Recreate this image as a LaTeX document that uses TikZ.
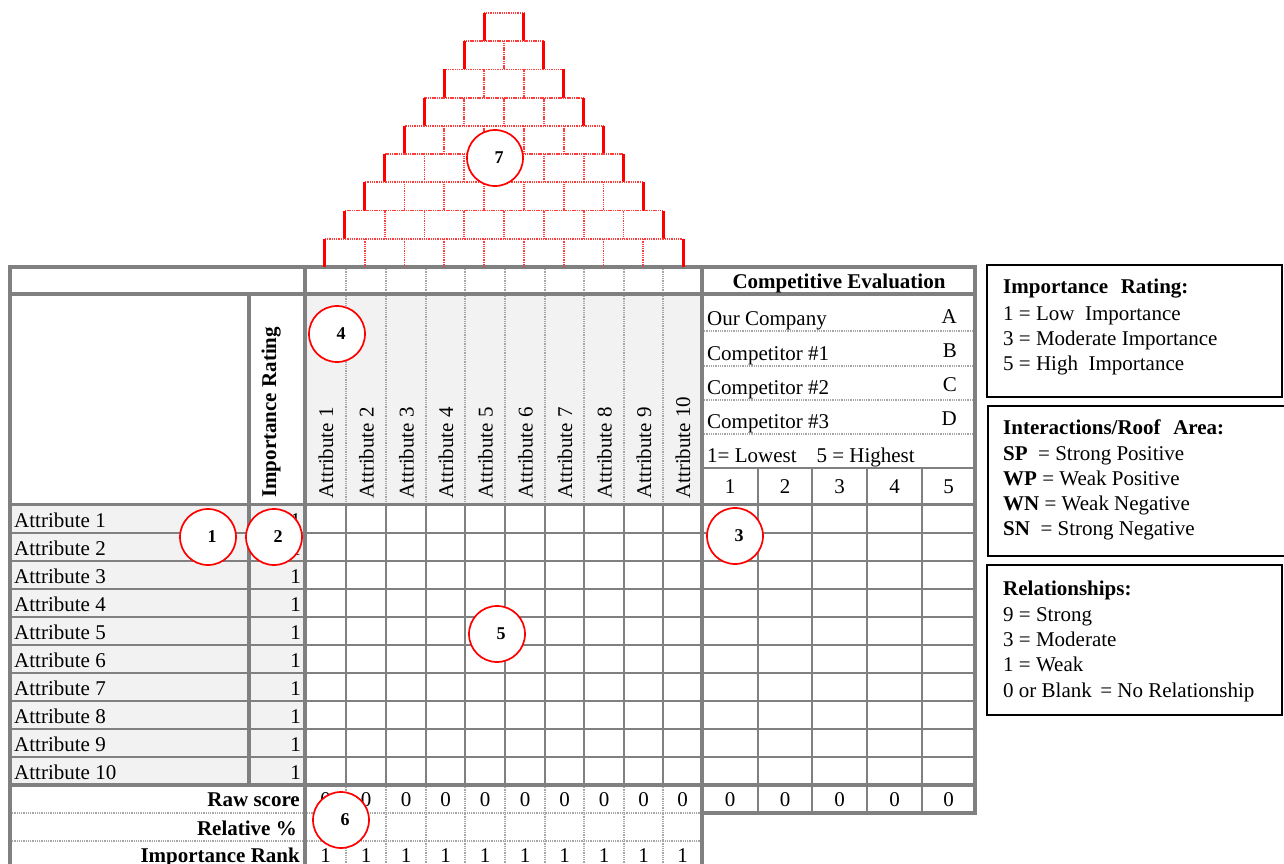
\documentclass[tikz,border=0pt]{standalone}
\usepackage{fontspec}
\setmainfont{Liberation Serif}
\definecolor{gridgray}{HTML}{808080}
\definecolor{dotgray}{HTML}{A6A6A6}
\definecolor{headgray}{HTML}{F2F2F2}
\definecolor{roofred}{HTML}{FF3C3C}
\begin{document}
\begin{tikzpicture}[x=1pt,y=-1pt,
  thick rule/.style={draw=gridgray,line width=3.4pt},
  thin rule/.style={draw=gridgray,line width=1.8pt},
  dot rule/.style={draw=dotgray,line width=1.3pt,dash pattern=on 0.9pt off 0.9pt},
  roof dot/.style={draw=roofred,line width=1.8pt,dash pattern=on 1.1pt off 0.7pt},
  roof side/.style={draw=red,line width=3pt},
  marker/.style={circle,draw=red,line width=1.7pt,fill=white,minimum size=56pt,inner sep=0pt,
                 font=\fontsize{18}{18}\selectfont\bfseries},
  txt/.style={font=\fontsize{21}{24}\selectfont,inner sep=0pt},
  btxt/.style={font=\fontsize{21}{24}\selectfont\bfseries,inner sep=0pt},
  legend/.style={draw=black,line width=1.3pt}
]
\useasboundingbox (0,0) rectangle (1284,864);

% ---------- shaded areas ----------
\fill[headgray] (305,294) rectangle (702,504);
\fill[headgray] (10,505) rectangle (305,785);

% ---------- thin grid lines ----------
\foreach \y in {533,561,589,617,645,673,701,729,757}
  \draw[thin rule] (10,\y) -- (975,\y);
\foreach \x in {346,386,426,465,505,545,584,624,663}
  \draw[thin rule] (\x,505) -- (\x,785);
\foreach \x in {758,812,867,922}
  \draw[thin rule] (\x,468) -- (\x,813);

% ---------- dotted separators ----------
\foreach \x in {346,386,426,465,505,545,584,624,663}{
  \draw[dot rule] (\x,267) -- (\x,504);
  \draw[dot rule] (\x,785) -- (\x,870);
}
\foreach \y in {331,366,400,434}
  \draw[dot rule] (702,\y) -- (975,\y);
\foreach \y in {813,841}
  \draw[dot rule] (10,\y) -- (702,\y);

% ---------- heavy borders ----------
\draw[thick rule] (10,870) -- (10,267) -- (975,267) -- (975,813) -- (702,813);
\draw[thick rule] (10,294) -- (975,294);
\draw[thick rule] (10,504.5) -- (975,504.5);
\draw[thick rule] (10,785) -- (975,785);
\draw[thick rule] (249,294) -- (249,785);
\draw[thick rule] (305,267) -- (305,870);
\draw[thick rule] (702,267) -- (702,870);
\draw[thick rule,line width=2.8pt] (702,468) -- (975,468);

% ---------- roof of bricks ----------
\foreach \i in {1,...,9}{
  \pgfmathsetmacro\yt{13+28.222*(\i-1)}
  \pgfmathsetmacro\yb{\yt+28.222}
  \pgfmathsetmacro\xl{504-19.9*\i}
  \pgfmathsetmacro\xr{504+19.9*\i}
  \draw[roof dot] (\xl,\yt) -- (\xr,\yt);
  \ifnum\i>1
    \foreach \k in {2,...,\i}{
      \pgfmathsetmacro\xk{\xl+39.8*(\k-1)}
      \draw[roof dot] (\xk,\yt) -- (\xk,\yb);
    }
  \fi
  \draw[roof side] (\xl,\yt) -- (\xl,\yb);
  \draw[roof side] (\xr,\yt) -- (\xr,\yb);
}

% ---------- column headings ----------
\node[btxt,rotate=90,anchor=base west] (imprate) at (276,498) {Importance Rating};
\foreach \c [count=\n] in {325.5,366,406,445.5,485,525,564.5,604,643.5,682.5}
  \node[txt,rotate=90,anchor=base west] (head\n) at (\c+7.5,499) {Attribute \n};

% ---------- competitive evaluation ----------
\node[btxt,anchor=base] (compeval) at (839,288) {Competitive Evaluation};
\node[txt,anchor=base west] (ourco) at (707,325) {Our Company};
\node[txt,anchor=base west] (comp1) at (707,360) {Competitor \#1};
\node[txt,anchor=base west] (comp2) at (707,394) {Competitor \#2};
\node[txt,anchor=base west] (comp3) at (707,428) {Competitor \#3};
\node[txt,anchor=base east] (letA) at (957,323) {A};
\node[txt,anchor=base east] (letB) at (957,357) {B};
\node[txt,anchor=base east] (letC) at (957,391) {C};
\node[txt,anchor=base east] (letD) at (957,425) {D};
\node[txt,anchor=base west] (scale) at (707,462) {1= Lowest\hspace{0.95em}5 = Highest};
\foreach \c [count=\n] in {730,785,839.5,894.5,948.5}{
  \node[txt,anchor=base] (cnum\n) at (\c,493) {\n};
  \node[txt,anchor=base] (craw\n) at (\c,806) {0};
}

% ---------- attribute rows ----------
\foreach \n in {1,...,10}{
  \pgfmathsetmacro\yb{499+28*\n}
  \node[txt,anchor=base west] (attr\n) at (14,\yb) {Attribute \n};
  \node[txt,anchor=base east] (rate\n) at (301,\yb) {1};
}

% ---------- score rows ----------
\node[btxt,anchor=base east] (rawlab) at (300,806) {Raw score};
\node[btxt,anchor=base east] (rellab) at (297,835) {Relative \%};
\node[btxt,anchor=base east] (ranklab) at (300,862) {Importance Rank};
\foreach \c [count=\n] in {325.5,366,406,445.5,485,525,564.5,604,643.5,682.5}{
  \node[txt,anchor=base] (raw\n) at (\c,806) {0};
  \node[txt,anchor=base] (rank\n) at (\c,862) {1};
}

% ---------- numbered callouts ----------
\node[marker] (m7) at (495,158) {\hspace*{8pt}7};
\node[marker] (m4) at (337,334) {\hspace*{8pt}4};
\node[marker] (m1) at (208,537) {\hspace*{8pt}1};
\node[marker] (m2) at (274,537) {\hspace*{8pt}2};
\node[marker] (m3) at (735,536) {\hspace*{8pt}3};
\node[marker] (m5) at (497,634) {\hspace*{8pt}5};
\node[marker] (m6) at (341,820) {\hspace*{8pt}6};

% ---------- legends ----------
\draw[legend] (987,265) rectangle (1282,397);
\node[btxt,anchor=base west] (lg1t) at (1003,293) {Importance\hspace{0.6em}Rating:};
\node[txt,anchor=base west] (lg1a) at (1003,320) {1 = Low\hspace{0.5em}Importance};
\node[txt,anchor=base west] (lg1b) at (1003,345) {3 = Moderate Importance};
\node[txt,anchor=base west] (lg1c) at (1003,370) {5 = High\hspace{0.5em}Importance};

\draw[legend] (988,406) rectangle (1300,556);
\node[btxt,anchor=base west] (lg2t) at (1003,434) {Interactions/Roof\hspace{0.6em}Area:};
\node[txt,anchor=base west] (lg2a) at (1003,460) {\textbf{SP}\hspace{0.5em}= Strong Positive};
\node[txt,anchor=base west] (lg2b) at (1003,485) {\textbf{WP} = Weak Positive};
\node[txt,anchor=base west] (lg2c) at (1003,510) {\textbf{WN} = Weak Negative};
\node[txt,anchor=base west] (lg2d) at (1003,535) {\textbf{SN}\hspace{0.5em}= Strong Negative};

\draw[legend] (987,565) rectangle (1282,715);
\node[btxt,anchor=base west] (lg3t) at (1003,595) {Relationships:};
\node[txt,anchor=base west] (lg3a) at (1003,621) {9 = Strong};
\node[txt,anchor=base west] (lg3b) at (1003,646) {3 = Moderate};
\node[txt,anchor=base west] (lg3c) at (1003,671) {1 = Weak};
\node[txt,anchor=base west] (lg3d) at (1003,697) {0 or Blank\hspace{0.4em}= No Relationship};
\end{tikzpicture}
\end{document}
